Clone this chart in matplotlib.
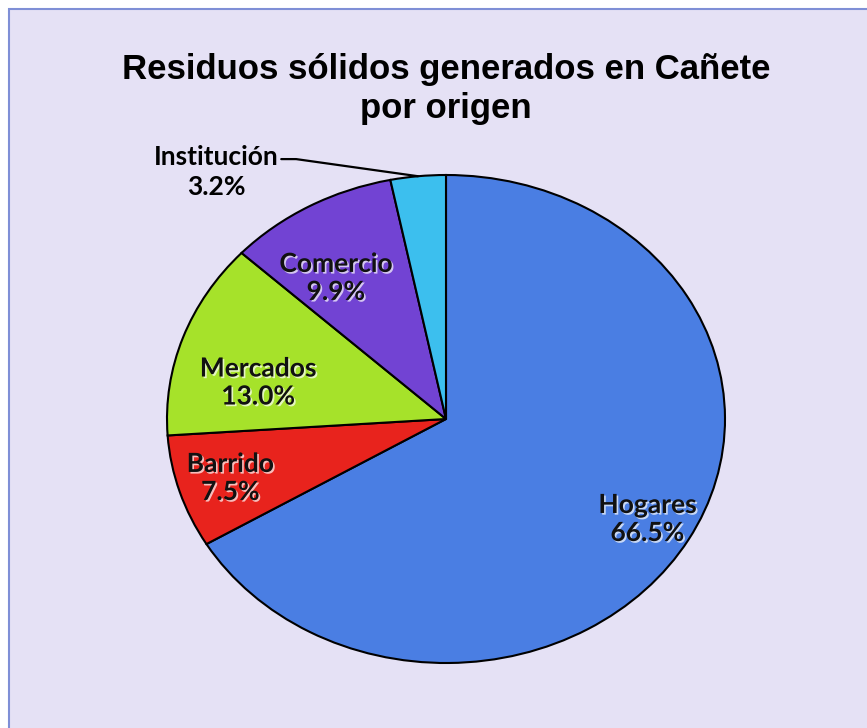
import numpy as np
import matplotlib
matplotlib.use("Agg")
import matplotlib.pyplot as plt
import matplotlib.patheffects as pe
from matplotlib.patches import Rectangle

# datos: residuos solidos por origen (%)
labels = ["Hogares", "Barrido", "Mercados", "Comercio", "Institución"]
values = [66.5, 7.5, 13.0, 9.9, 3.2]
colors = ["#4a7ee3", "#e8231d", "#a6e22a", "#7243d3", "#3cbfee"]

# posicion de etiquetas (distancia radial, ajuste de angulo en grados)
label_r = [0.83, 0.81, 0.69, 0.70]
label_dang = [0, 0, 7, 5]

fig = plt.figure(figsize=(8.67, 7.28), dpi=100)
fig.patch.set_facecolor("white")

# fondo lavanda con borde
bg = fig.add_axes([0, 0, 1, 1])
bg.set_xlim(0, 867)
bg.set_ylim(728, 0)
bg.axis("off")
bg.add_patch(Rectangle((9, 9), 870, 730, facecolor="#e5e1f5", edgecolor="#7f8fd6", lw=1.5))

fig.text(446 / 867, 1 - 89 / 728, "Residuos sólidos generados en Cañete\npor origen",
         ha="center", va="center", fontsize=25, fontweight="bold",
         family="Liberation Sans", linespacing=1.2)

ax = fig.add_axes([167 / 867, 1 - 663 / 728, 558 / 867, 488 / 728])
wedges, _ = ax.pie(values, colors=colors, startangle=90, counterclock=False,
                   wedgeprops=dict(edgecolor="black", linewidth=1.5))
ax.set_aspect("auto")
ax.set_xlim(-1, 1)
ax.set_ylim(-1, 1)
ax.axis("off")

shadow = [pe.withSimplePatchShadow(offset=(1.2, -1.2), shadow_rgbFace="white", alpha=0.7)]
for i in range(4):
    w = wedges[i]
    ang = np.deg2rad((w.theta1 + w.theta2) / 2 + label_dang[i])
    ax.text(label_r[i] * np.cos(ang), label_r[i] * np.sin(ang),
            f"{labels[i]}\n{values[i]:.1f}%", ha="center", va="center",
            fontsize=19, fontweight="bold", family="Lato", color="#111111",
            linespacing=1.2, path_effects=shadow)

# Institucion con linea guia
w = wedges[4]
ang = np.deg2rad((w.theta1 + w.theta2) / 2)
ax.annotate(labels[4], xy=(np.cos(ang), np.sin(ang)), xytext=(-0.824, 1.075),
            ha="center", va="center", fontsize=19, fontweight="bold", family="Lato",
            annotation_clip=False,
            arrowprops=dict(arrowstyle="-", color="black", lw=1.6, relpos=(1, 0.4),
                            shrinkA=0, shrinkB=0,
                            connectionstyle="angle,angleA=0,angleB=172,rad=0"))
ax.text(-0.824, 0.95, f"{values[4]:.1f}%", ha="center", va="center",
        fontsize=19, fontweight="bold", family="Lato")

fig.savefig("out.png", dpi=100)
